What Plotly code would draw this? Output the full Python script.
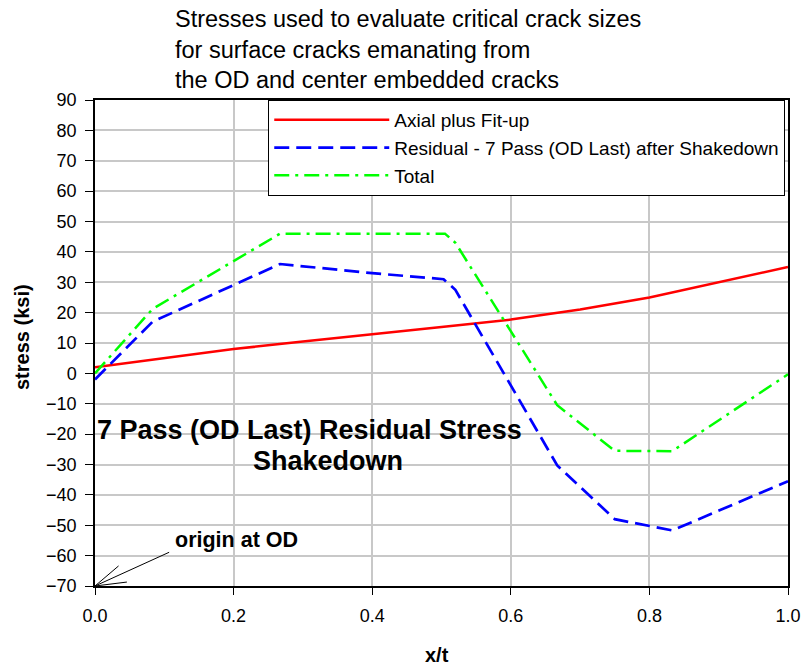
import plotly.graph_objects as go

# ---- data ----
x_axial = [0.0, 0.1, 0.2, 0.3, 0.4, 0.5, 0.6, 0.7, 0.8, 0.9, 1.0]
y_axial = [2.0, 5.0, 8.0, 10.5, 13.0, 15.3, 17.7, 21.0, 25.0, 30.0, 35.0]

x_resid = [0.0, 0.083, 0.267, 0.4, 0.503, 0.52, 0.667, 0.75, 0.833, 1.0]
y_resid = [-2.0, 17.0, 36.0, 33.0, 31.0, 27.5, -30.3, -48.0, -51.7, -35.5]

x_total = [0.0, 0.083, 0.267, 0.4, 0.505, 0.52, 0.667, 0.75, 0.833, 1.0]
y_total = [0.0, 21.2, 46.0, 46.0, 46.0, 43.0, -10.5, -25.5, -25.6, -0.3]

names = ["Axial plus Fit-up",
         "Residual - 7 Pass (OD Last) after Shakedown",
         "Total"]

x_ticks = [0.0, 0.2, 0.4, 0.6, 0.8, 1.0]
y_ticks = list(range(-70, 91, 10))

FONT = "Liberation Sans, Arial, sans-serif"

fig = go.Figure()
fig.add_trace(go.Scatter(x=x_axial, y=y_axial, mode="lines", name=names[0],
                         line=dict(color="#ff0000", width=2.5)))
fig.add_trace(go.Scatter(x=x_resid, y=y_resid, mode="lines", name=names[1],
                         line=dict(color="#0000ff", width=2.7, dash="15px,7px")))
fig.add_trace(go.Scatter(x=x_total, y=y_total, mode="lines", name=names[2],
                         line=dict(color="#00ff00", width=2.5, dash="15px,6px,3px,6px")))

fig.update_layout(
    width=804, height=666,
    margin=dict(l=95, r=16, t=100, b=80),
    paper_bgcolor="white", plot_bgcolor="white",
    font=dict(family=FONT, color="black", size=18),
    showlegend=True,
    legend=dict(x=0.25, y=1.0, xanchor="left", yanchor="top",
                bgcolor="white", bordercolor="black", borderwidth=1,
                font=dict(size=19, family=FONT), itemwidth=115),
)

fig.update_xaxes(range=[0, 1], tickvals=x_ticks, tickformat=".1f",
                 showgrid=True, gridcolor="#c8c8c8", gridwidth=1.5,
                 showline=True, linecolor="black", linewidth=1.5, mirror=True,
                 ticks="outside", ticklen=7, tickcolor="black",
                 tickfont=dict(size=18), zeroline=False, automargin=False,
                 ticklabelstandoff=6)
fig.update_yaxes(range=[-70, 90], tickvals=y_ticks,
                 showgrid=True, gridcolor="#c8c8c8", gridwidth=1.5,
                 showline=True, linecolor="black", linewidth=1.5, mirror=True,
                 ticks="outside", ticklen=8, tickcolor="black",
                 tickfont=dict(size=18), zeroline=False, automargin=False,
                 ticklabelstandoff=5)

# chart title
fig.add_annotation(x=(173 - 95) / 693, y=(586 - 50) / 486, xref="paper", yref="paper",
                   showarrow=False, xanchor="left", yanchor="middle", align="left",
                   text="Stresses used to evaluate critical crack sizes<br>for surface cracks emanating from<br>the OD and center embedded cracks",
                   font=dict(size=23.5, family=FONT))
# axis titles
fig.add_annotation(x=(22 - 95) / 693, y=(586 - 337) / 486, xref="paper", yref="paper",
                   showarrow=False, textangle=-90, xanchor="center", yanchor="middle",
                   text="<b>stress (ksi)</b>", font=dict(size=20, family=FONT))
fig.add_annotation(x=(437 - 95) / 693, y=(586 - 655) / 486, xref="paper", yref="paper",
                   showarrow=False, xanchor="center", yanchor="middle",
                   text="<b>x/t</b>", font=dict(size=20, family=FONT))

fig.add_annotation(x=0.31, y=-18.6, xref="x", yref="y", showarrow=False,
                   text="<b>7 Pass (OD Last) Residual Stress</b>",
                   font=dict(size=27, family=FONT), xanchor="center", yanchor="middle")
fig.add_annotation(x=0.336, y=-28.8, xref="x", yref="y", showarrow=False,
                   text="<b>Shakedown</b>",
                   font=dict(size=27, family=FONT), xanchor="center", yanchor="middle")
fig.add_annotation(x=0.1126, y=-54.9, xref="x", yref="y", showarrow=False,
                   text="<b>origin at OD</b>",
                   font=dict(size=21.5, family=FONT), xanchor="left", yanchor="middle")

# pointer line to origin with open arrowhead
for (x1, y1) in [(0.107, -58.9), (0.034, -63.4), (0.046, -68.7)]:
    fig.add_shape(type="line", xref="x", yref="y", x0=0, y0=-70, x1=x1, y1=y1,
                  line=dict(color="black", width=1))

fig.write_html("out.html")
